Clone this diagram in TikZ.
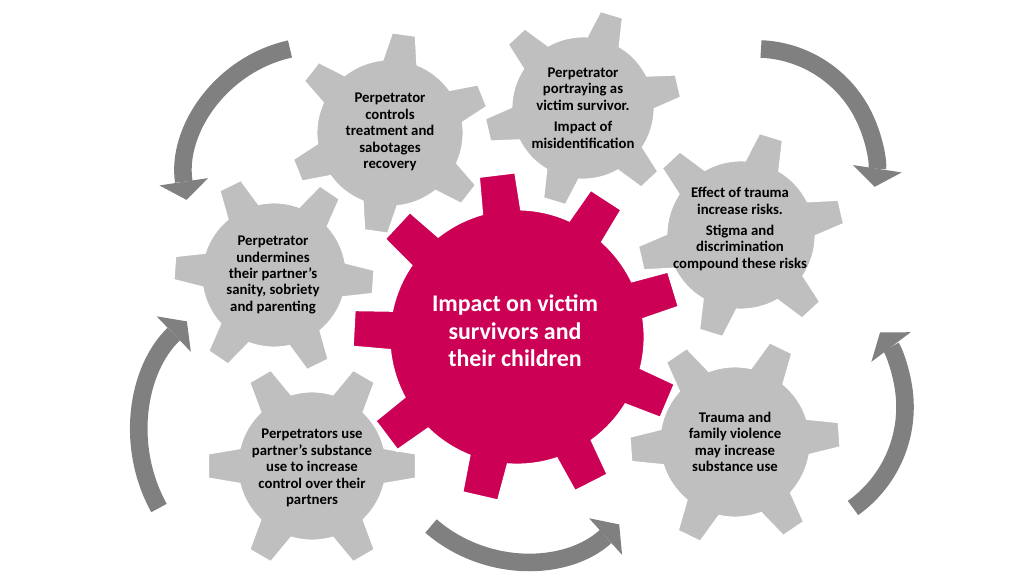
\documentclass[tikz,border=0pt]{standalone}
\usepackage{fontspec}
\setmainfont{Carlito}
\usetikzlibrary{arrows.meta}

\definecolor{gearpink}{RGB}{204,0,85}
\definecolor{geargray}{RGB}{191,191,191}
\definecolor{arrowgray}{RGB}{128,128,128}

% #1 style, #2 centre, #3 body radius, #4 tip radius, #5 teeth,
% #6 first tooth angle, #7 half angle at base, #8 half angle at tip
\newcommand{\gear}[8]{%
  \filldraw[#1, shift={#2}] (#6-#7:#3)
    \foreach \k [evaluate=\k as \a using #6+(\k-1)*360/#5,
                 evaluate=\k as \s using #6+(\k-1)*360/#5+#7,
                 evaluate=\k as \e using #6+\k*360/#5-#7] in {1,...,#5} {
      -- (\a-#8:#4) -- (\a+#8:#4) -- (\s:#3)
      arc[start angle=\s, end angle=\e, radius=#3]
    } -- cycle;}

\begin{document}
\begin{tikzpicture}[x=0.025cm, y=-0.025cm,
    graygear/.style={fill=geargray, draw=white, line width=2pt},
    pinkgear/.style={fill=gearpink, draw=white, line width=2pt},
    cyclearrow/.style={draw=arrowgray, line width=12.5pt,
      -{Triangle[width=35pt, length=13pt, line width=0pt]}},
    gtext/.style={align=center, inner sep=0pt, text=black,
      font=\bfseries\fontsize{10.5}{11.7}\selectfont},
    ctext/.style={align=center, inner sep=0pt, text=white,
      font=\bfseries\fontsize{17}{19.5}\selectfont}]
  \useasboundingbox (0,0) rectangle (1024,576);

  % arrows round the gears
  \coordinate (topleft) at (290,49);
  \coordinate (topright) at (761,49);
  \coordinate (right) at (853,508);
  \coordinate (left) at (159,508);
  \coordinate (bottom) at (431,526);
  \draw[cyclearrow] (topleft) arc[start angle=257.5, end angle=171.4, radius=134];
  \draw[cyclearrow] (topright) arc[start angle=272.4, end angle=368.6, radius=120];
  \draw[cyclearrow] (right) arc[start angle=54.5, end angle=-37, radius=124];
  \draw[cyclearrow] (left) arc[start angle=151, end angle=226, radius=155];
  \draw[cyclearrow] (bottom) arc[start angle=131, end angle=48, radius=142];

  % gears
  \gear{graygear}{(390,133)}{74}{101}{6}{38}{14}{7}
  \gear{graygear}{(583,108)}{72}{99}{6}{47}{14}{7}
  \gear{graygear}{(741,235)}{75}{104}{6}{47}{14}{7}
  \gear{graygear}{(274,275)}{73}{101}{6}{4}{14}{7}
  \gear{graygear}{(312,466)}{75}{105}{6}{0}{14}{7}
  \gear{graygear}{(735,442)}{76}{106}{6}{56}{14}{7}
  \gear{pinkgear}{(517,337)}{128}{165}{9}{23}{9}{6.5}

  % texts
  \node[gtext] (treatment) at (390,132) {Perpetrator\\controls\\treatment and\\sabotages\\recovery};
  \node[gtext] (portraying) at (583,108) {Perpetrator\\portraying as\\victim survivor.\\[3.5pt]Impact of\\misidentification};
  \node[gtext] (trauma) at (740,229) {Effect of trauma\\increase risks.\\[3.5pt]Stigma and\\discrimination\\compound these risks};
  \node[gtext] (undermines) at (273,275) {Perpetrator\\undermines\\their partner’s\\sanity, sobriety\\and parenting};
  \node[gtext] (control) at (312,468) {Perpetrators use\\partner’s substance\\use to increase\\control over their\\partners};
  \node[gtext] (substance) at (735,442) {Trauma and\\family violence\\may increase\\substance use};
  \node[ctext] (impact) at (515,331) {Impact on victim\\survivors and\\their children};
\end{tikzpicture}
\end{document}
